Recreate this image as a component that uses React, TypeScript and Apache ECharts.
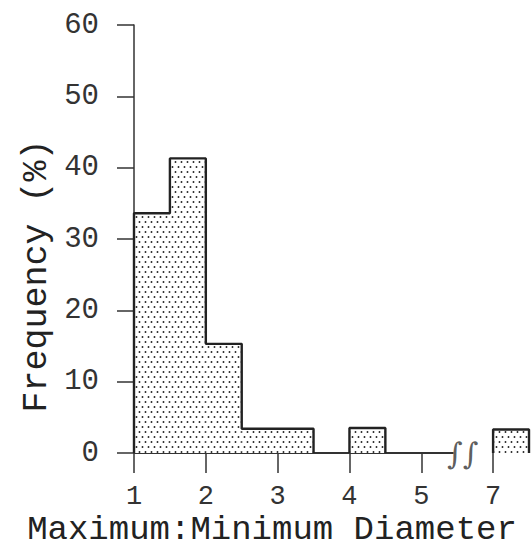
import React, { useEffect, useRef } from "react";
import * as echarts from "echarts";

// Histogram bins (displayed x values; break between 5 and 7 on the axis)
const binStart = [1, 1.5, 2, 2.5, 4, 7];
const binEnd = [1.5, 2, 2.5, 3.5, 4.5, 7.5];
const frequency = [33.6, 41.3, 15.3, 3.4, 3.5, 3.3];

// x-axis tick values (displayed) and labels
const xTickValues = [1, 2, 3, 4, 5, 7];
const xTickLabels = ["1", "2", "3", "4", "5", "7"];

const xTitle = "Maximum:Minimum Diameter";
const yTitle = "Frequency (%)";

// axis break: values >= 7 are drawn one unit to the left (5..7 squeezed)
const breakAt = 5.5;
const toAxis = (v: number) => (v >= 7 ? v - 1 : v);

export default function App() {
  const ref = useRef<HTMLDivElement>(null);
  useEffect(() => {
    if (!ref.current) return;
    const chart = echarts.init(ref.current, null, { renderer: "svg" });

    const cv = document.createElement("canvas");
    cv.width = 6;
    cv.height = 10;
    const ctx = cv.getContext("2d")!;
    ctx.fillStyle = "#ffffff";
    ctx.fillRect(0, 0, 6, 10);
    ctx.fillStyle = "#222";
    ctx.beginPath();
    ctx.arc(1.5, 2, 0.95, 0, Math.PI * 2);
    ctx.fill();
    ctx.beginPath();
    ctx.arc(4.5, 7, 0.95, 0, Math.PI * 2);
    ctx.fill();
    const pattern: any = { image: cv, repeat: "repeat", imageWidth: 6, imageHeight: 10 };

    const barData = binStart.map((s, i) => [toAxis(s), toAxis(binEnd[i]), frequency[i]]);

    // outline of the histogram, split into contiguous groups
    const outline: any[] = [];
    binStart.forEach((s, i) => {
      const x0 = toAxis(s);
      const x1 = toAxis(binEnd[i]);
      const h = frequency[i];
      const contiguous = i > 0 && binEnd[i - 1] === s;
      if (!contiguous) {
        if (i > 0) outline.push([toAxis(binEnd[i - 1]), 0], null);
        outline.push([x0, 0]);
      }
      outline.push([x0, h], [x1, h]);
      if (i === binStart.length - 1) outline.push([x1, 0]);
    });

    const axisTickPos = xTickValues.map(toAxis);
    const labelMap: Record<string, string> = {};
    axisTickPos.forEach((p, i) => (labelMap[String(p)] = xTickLabels[i]));

    const mono = "Liberation Mono";
    chart.setOption({
      animation: false,
      grid: { left: 134, top: 25, width: 399, bottom: 97 },
      xAxis: {
        type: "value",
        min: 1,
        max: 6.5,
        interval: 1,
        axisLine: { show: false },
        splitLine: { show: false },
        axisTick: {
          show: true,
          length: 20,
          customValues: axisTickPos,
          lineStyle: { color: "#333", width: 1.5 },
        },
        axisLabel: {
          margin: 44,
          fontFamily: mono,
          fontSize: 27,
          lineHeight: 22,
          color: "#333",
          verticalAlign: "middle",
          formatter: (v: number) => labelMap[String(v)] ?? "",
        },
      },
      yAxis: {
        type: "value",
        min: 0,
        max: 60,
        interval: 10,
        splitLine: { show: false },
        axisLine: { show: true, lineStyle: { color: "#333", width: 1.5 } },
        axisTick: { show: true, length: 17, lineStyle: { color: "#333", width: 1.5 } },
        axisLabel: {
          margin: 35,
          fontFamily: mono,
          fontSize: 29,
          color: "#333",
        },
      },
      series: [
        {
          type: "line",
          data: [
            [1, 0],
            [breakAt - 0.05, 0],
          ],
          symbol: "none",
          lineStyle: { color: "#333", width: 2 },
          z: 1,
        },
        {
          type: "custom",
          data: barData,
          encode: { x: [0, 1], y: 2 },
          clip: false,
          z: 3,
          renderItem: (params: any, api: any) => {
            const p0 = api.coord([api.value(0), api.value(2)]);
            const p1 = api.coord([api.value(1), 0]);
            return {
              type: "rect",
              shape: { x: p0[0], y: p0[1], width: p1[0] - p0[0], height: p1[1] - p0[1] },
              style: { fill: pattern, stroke: null },
            };
          },
        },
        {
          type: "line",
          data: outline,
          symbol: "none",
          connectNulls: false,
          clip: false,
          lineStyle: { color: "#222", width: 2.4 },
          z: 4,
        },
        {
          type: "scatter",
          data: [[breakAt + 0.08, 0]],
          symbolSize: 0,
          z: 4,
          label: {
            show: true,
            position: "inside",
            formatter: "\u222B\u222B",
            fontFamily: "DejaVu Serif",
            fontSize: 30,
            color: "#333",
          },
        },
      ],
      graphic: [
        {
          type: "text",
          x: 272,
          y: 530,
          style: {
            text: xTitle,
            fontFamily: mono,
            fontSize: 34,
            lineHeight: 26,
            fill: "#222",
            align: "center",
            verticalAlign: "middle",
          },
        },
        {
          type: "text",
          x: 37,
          y: 276,
          rotation: Math.PI / 2,
          style: {
            text: yTitle,
            fontFamily: mono,
            fontSize: 35,
            fill: "#222",
            align: "center",
            verticalAlign: "middle",
          },
        },
      ],
    });
    return () => chart.dispose();
  }, []);
  return (
    <div
      ref={ref}
      style={{ position: "absolute", left: 0, top: 0, width: 532, height: 550, overflow: "hidden", background: "#fff" }}
    />
  );
}
